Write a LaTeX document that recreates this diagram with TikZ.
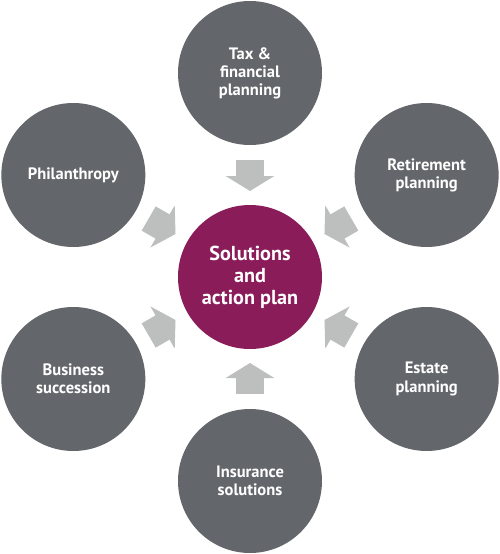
\documentclass[tikz,border=0pt]{standalone}
\usepackage{fontspec}
\usepackage{tikz}
\usetikzlibrary{arrows.meta, positioning, calc}
\setmainfont{PT Sans}
\definecolor{plangray}{HTML}{63666A}
\definecolor{planplum}{HTML}{8A1C5A}
\definecolor{planarrow}{HTML}{BDBFBF}

\begin{document}
\begin{tikzpicture}[
    topic/.style={circle, fill=plangray, text=white, minimum size=2.88cm, inner sep=0pt, align=center, font=\bfseries\fontsize{9.4}{10.3}\selectfont},
    core/.style={circle, fill=planplum, text=white, minimum size=2.88cm, inner sep=0pt, align=center, font=\bfseries\fontsize{11.5}{12.6}\selectfont},
    flow/.style={-{Triangle[width=0.96cm, length=0.3cm]}, line width=0.56cm, planarrow}
]
\useasboundingbox (-5,-5.54) rectangle (5,5.54);

\node[core] (plan) at (0,0) {Solutions\\and\\action plan};

\node[topic] (tax) at (90:4.08) {Tax \&\\financial\\planning};
\node[topic] (retire) at (30:4.08) {Retirement\\planning};
\node[topic] (estate) at (-30:4.08) {Estate\\planning};
\node[topic] (insure) at (-90:4.08) {Insurance\\solutions};
\node[topic] (business) at (-150:4.08) {Business\\succession};
\node[topic] (phil) at (150:4.08) {Philanthropy};

% block arrows into the plan
\foreach \src in {tax, retire, estate, insure, business, phil}
    \draw[flow] ($(plan)!2.34cm!(\src)$) -- ($(plan)!1.72cm!(\src)$);

\end{tikzpicture}
\end{document}
